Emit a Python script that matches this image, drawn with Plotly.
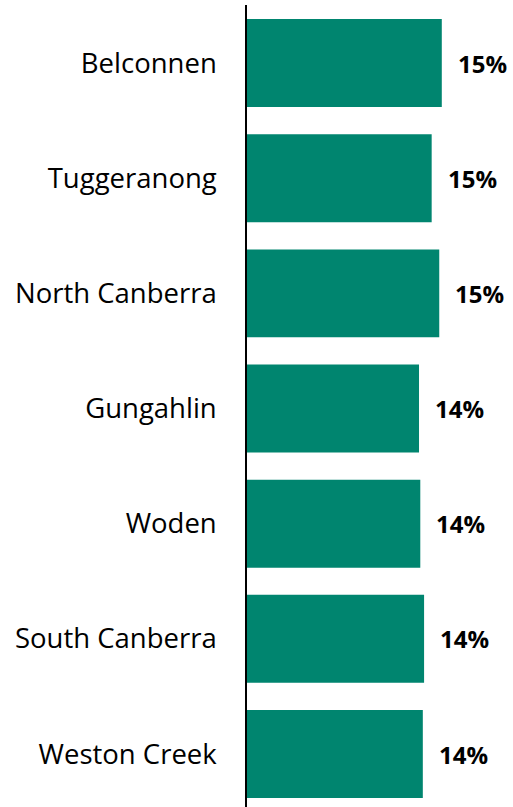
import plotly.graph_objects as go

regions = ["Belconnen", "Tuggeranong", "North Canberra", "Gungahlin", "Woden", "South Canberra", "Weston Creek"]
shares = [0.154, 0.146, 0.152, 0.136, 0.137, 0.140, 0.139]

BAR = "#00856F"
FONT = "Open Sans"

fig = go.Figure(go.Bar(
    x=shares, y=regions, orientation="h",
    marker=dict(color=BAR, line=dict(width=0)),
    hoverinfo="skip",
))

for r, v in zip(regions, shares):
    fig.add_annotation(x=v, y=r, text=f"<b>{v:.0%}</b>", showarrow=False,
                       xanchor="left", xshift=14, font=dict(family=FONT, size=24, color="black"))

fig.update_layout(
    width=513, height=807,
    margin=dict(l=247, r=0, t=5, b=0),
    paper_bgcolor="white", plot_bgcolor="white",
    bargap=0.236, showlegend=False,
    font=dict(family=FONT, size=27.5, color="black"),
)
fig.update_xaxes(range=[0, 0.2103], visible=False, fixedrange=True)
fig.update_yaxes(type="category", categoryorder="array", categoryarray=regions,
                 range=[6.46, -0.504], showline=True, linecolor="black", linewidth=1.5,
                 ticks="", showgrid=False, ticklabelstandoff=23, fixedrange=True)

fig.write_html("out.html", config={"displayModeBar": False},
               post_script="document.body.style.margin='0';document.body.style.overflow='hidden';")
